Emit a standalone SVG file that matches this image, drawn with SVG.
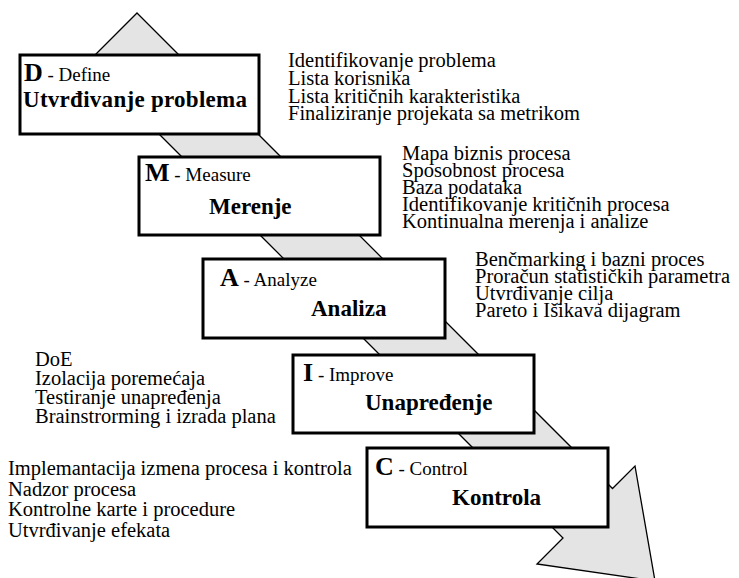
<svg xmlns="http://www.w3.org/2000/svg" width="739" height="578" viewBox="0 0 739 578">
<style>
.box{fill:#fff;stroke:#000;stroke-width:3}
.t{font-family:"Liberation Serif","Times New Roman",serif;fill:#000}
.big{font-size:26px;font-weight:bold}
.sub{font-size:19px}
.ttl{font-size:23px;font-weight:bold}
.lst{font-size:20.5px}
</style>
<rect width="739" height="578" fill="#fff"/>
<g id="connectors">
<polygon points="137,13 612.5,488.5 635,466 655,581 537,564 563,538 87.5,62.5" fill="#e4e4e4" stroke="#000" stroke-width="1.3" stroke-linejoin="miter"/>
</g>
<g id="define">
<rect class="box" x="20" y="55" width="239" height="79"/>
<text class="t" x="24" y="81"><tspan class="big">D</tspan><tspan class="sub"> - Define</tspan></text>
<text class="t ttl" x="23" y="107" textLength="224">Utvrđivanje problema</text>
</g>
<g id="define-list" class="t lst">
<text x="288" y="67">Identifikovanje problema</text>
<text x="288" y="85">Lista korisnika</text>
<text x="288" y="102.5">Lista kritičnih karakteristika</text>
<text x="288" y="120">Finaliziranje projekata sa metrikom</text>
</g>
<g id="measure">
<rect class="box" x="139" y="157" width="241" height="78"/>
<text class="t" x="145" y="181"><tspan class="big">M</tspan><tspan class="sub"> - Measure</tspan></text>
<text class="t ttl" x="209" y="214">Merenje</text>
</g>
<g id="measure-list" class="t lst">
<text x="402" y="160">Mapa biznis procesa</text>
<text x="402" y="177">Sposobnost procesa</text>
<text x="402" y="194">Baza podataka</text>
<text x="402" y="211">Identifikovanje kritičnih procesa</text>
<text x="402" y="228">Kontinualna merenja i analize</text>
</g>
<g id="analyze">
<rect class="box" x="203" y="259" width="242" height="79"/>
<text class="t" x="220" y="286"><tspan class="big">A</tspan><tspan class="sub"> - Analyze</tspan></text>
<text class="t ttl" x="311" y="316">Analiza</text>
</g>
<g id="analyze-list" class="t lst">
<text x="475" y="266">Benčmarking i bazni proces</text>
<text x="475" y="283">Proračun statističkih parametra</text>
<text x="475" y="300">Utvrđivanje cilja</text>
<text x="475" y="317">Pareto i Išikava dijagram</text>
</g>
<g id="improve">
<rect class="box" x="293" y="355" width="241" height="78"/>
<text class="t" x="303" y="381"><tspan class="big">I</tspan><tspan class="sub"> - Improve</tspan></text>
<text class="t ttl" x="365" y="410">Unapređenje</text>
</g>
<g id="improve-list" class="t lst">
<text x="35" y="366">DoE</text>
<text x="35" y="385">Izolacija poremećaja</text>
<text x="35" y="404">Testiranje unapređenja</text>
<text x="35" y="423">Brainstrorming i izrada plana</text>
</g>
<g id="control">
<rect class="box" x="367" y="448" width="241" height="79"/>
<text class="t" x="375" y="475"><tspan class="big">C</tspan><tspan class="sub"> - Control</tspan></text>
<text class="t ttl" x="452" y="505">Kontrola</text>
</g>
<g id="control-list" class="t lst">
<text x="8" y="475">Implemantacija izmena procesa i kontrola</text>
<text x="8" y="495.5">Nadzor procesa</text>
<text x="8" y="516">Kontrolne karte i procedure</text>
<text x="8" y="536.5">Utvrđivanje efekata</text>
</g>
</svg>
